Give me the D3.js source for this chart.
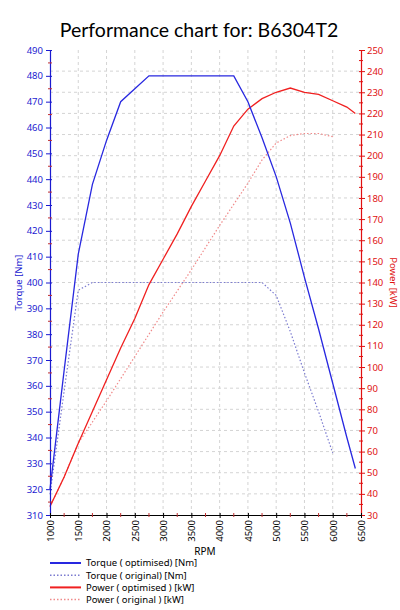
<!DOCTYPE html>
<meta charset="utf-8">
<style>
body { margin: 0; background: #fff; }
text { font-family: "Noto Sans", sans-serif; }
.title { font: 19.5px Lato, sans-serif; }
.tick text { font-size: 9.5px; }
.legend text { font-size: 9.5px; }
</style>
<svg width="400" height="610"></svg>
<script src="https://cdnjs.cloudflare.com/ajax/libs/d3/7.8.5/d3.min.js"></script>
<script>

// values
var rpmOpt = [1000, 1250, 1500, 1750, 2000, 2250, 2500, 2750, 3000, 3250, 3500, 3750, 4000, 4250, 4500, 4750, 5000, 5250, 5500, 5750, 6000, 6250, 6400];
var torqueOpt = [320, 366, 411, 438, 455, 470, 475, 480, 480, 480, 480, 480, 480, 480, 470, 456, 441, 423, 402, 382, 361, 340, 328];
var powerOpt = [34, 48, 64, 79, 94, 109, 123, 139, 151, 163, 176, 188, 200, 214, 222, 227, 230, 232, 230, 229, 226, 223, 220];

var rpmOrig = [1000, 1250, 1500, 1750, 2000, 2500, 3000, 3500, 4000, 4500, 4750, 5000, 5250, 5500, 5750, 6000];
var torqueOrig = [318, 358, 397, 400, 400, 400, 400, 400, 400, 400, 400, 395, 381, 365, 350, 334];
var powerOrig = [34, 48, 64, 74, 84, 105, 126, 146, 167, 187, 198, 206, 209.5, 210.5, 210.5, 209];

var rpmTicks = d3.range(1000, 6501, 500);
var torqueTicks = d3.range(310, 491, 10);
var powerTicks = d3.range(30, 251, 10);

var legendLabels = ["Torque ( optimised) [Nm]", "Torque ( original) [Nm]", "Power ( optimised ) [kW]", "Power ( original ) [kW]"];

var blue = "#2828e0", blueLight = "#7b7bd0", red = "#f02020", redLight = "#f08a8a";

var svg = d3.select("svg"),
    pLeft = 50, pRight = 361, pTop = 50, pBottom = 515;

var x = d3.scaleLinear().domain([1000, 6500]).range([pLeft, pRight]);
var yT = d3.scaleLinear().domain([310, 490]).range([pBottom, pTop]);
var yP = d3.scaleLinear().domain([30, 250]).range([pBottom, pTop]);

svg.append("text").attr("class", "title")
    .attr("x", 199).attr("y", 37)
    .attr("text-anchor", "middle")
    .text("Performance chart for: B6304T2");

// grid
var grid = svg.append("g").attr("stroke", "#d4d4d4").attr("stroke-dasharray", "3,3");
grid.selectAll(".gx").data(rpmTicks.slice(1, -1)).enter().append("line")
    .attr("x1", function(d) { return x(d); }).attr("x2", function(d) { return x(d); })
    .attr("y1", pTop).attr("y2", pBottom);
grid.selectAll(".gy").data(powerTicks.slice(1, -1)).enter().append("line")
    .attr("x1", pLeft).attr("x2", pRight)
    .attr("y1", function(d) { return yP(d); }).attr("y2", function(d) { return yP(d); });

// series
function drawLine(xs, ys, scale, color, dash) {
  var pts = xs.map(function(d, i) { return [d, ys[i]]; });
  svg.append("path")
      .attr("d", d3.line().x(function(d) { return x(d[0]); }).y(function(d) { return scale(d[1]); })(pts))
      .attr("fill", "none")
      .attr("stroke", color)
      .attr("stroke-width", dash ? 1.2 : 1.3)
      .attr("stroke-dasharray", dash);
}
drawLine(rpmOrig, powerOrig, yP, redLight, "1.5,2");
drawLine(rpmOrig, torqueOrig, yT, blueLight, "1.5,2");
drawLine(rpmOpt, powerOpt, yP, red, null);
drawLine(rpmOpt, torqueOpt, yT, blue, null);

// axes
function styleAxis(g, color) {
  g.select(".domain").attr("stroke", color).attr("stroke-width", 1.2);
  g.selectAll(".tick line").attr("stroke", color);
  g.selectAll(".tick text").attr("fill", color);
}
function minor(g, vals, pos, orient, color) {
  g.selectAll(".minor").data(vals).enter().append("line")
      .attr("stroke", color)
      .attr("x1", function(d) { return orient === "x" ? pos(d) : -2; })
      .attr("x2", function(d) { return orient === "x" ? pos(d) : 2; })
      .attr("y1", function(d) { return orient === "x" ? -2 : pos(d); })
      .attr("y2", function(d) { return orient === "x" ? 2 : pos(d); });
}

var gl = svg.append("g").attr("transform", "translate(" + pLeft + ",0)")
    .call(d3.axisLeft(yT).tickValues(torqueTicks).tickSize(4).tickPadding(3).tickSizeOuter(0));
gl.selectAll(".tick line").attr("x1", 2);
styleAxis(gl, "#1a1ad0");
minor(gl, d3.range(315, 490, 10), yT, "y", "#c03030");

var gr = svg.append("g").attr("transform", "translate(" + pRight + ",0)")
    .call(d3.axisRight(yP).tickValues(powerTicks).tickSize(4).tickPadding(2).tickSizeOuter(0));
gr.selectAll(".tick line").attr("x1", -2);
styleAxis(gr, "#e01010");
minor(gr, d3.range(35, 250, 10), yP, "y", "#e01010");

var gx = svg.append("g").attr("transform", "translate(0," + pBottom + ")")
    .call(d3.axisBottom(x).tickValues(rpmTicks).tickSize(3).tickSizeOuter(0).tickFormat(d3.format("d")));
gx.selectAll(".tick line").attr("y1", -2);
gx.selectAll(".tick text")
    .attr("transform", "rotate(-90)")
    .attr("text-anchor", "end")
    .attr("x", -5).attr("y", 0).attr("dy", "0.35em");
styleAxis(gx, "#000");
minor(gx, d3.range(1250, 6500, 500), x, "x", "#c03030");

svg.append("text").attr("x", 205).attr("y", 555)
    .attr("text-anchor", "middle").attr("font-size", 10).text("RPM");

svg.append("text")
    .attr("transform", "translate(22," + ((pTop + pBottom) / 2) + ") rotate(-90)")
    .attr("text-anchor", "middle").attr("font-size", 9.5).attr("fill", "#1a1ad0")
    .text("Torque [Nm]");

svg.append("text")
    .attr("transform", "translate(390," + ((pTop + pBottom) / 2) + ") rotate(90)")
    .attr("text-anchor", "middle").attr("font-size", 9.5).attr("fill", "#e01010")
    .text("Power [kW]");

// legend
var legendColors = [blue, blueLight, red, redLight];
var legendDash = [null, "1.5,2", null, "1.5,2"];
var lg = svg.append("g").attr("class", "legend");
var row = lg.selectAll("g").data(legendLabels).enter().append("g")
    .attr("transform", function(d, i) { return "translate(50," + (563 + i * 12.2) + ")"; });
row.append("line").attr("x1", 0).attr("x2", 31)
    .attr("stroke", function(d, i) { return legendColors[i]; })
    .attr("stroke-width", function(d, i) { return legendDash[i] ? 1.5 : 2; })
    .attr("stroke-dasharray", function(d, i) { return legendDash[i]; });
row.append("text").attr("x", 36).attr("dy", "0.35em").text(function(d) { return d; });

</script>
